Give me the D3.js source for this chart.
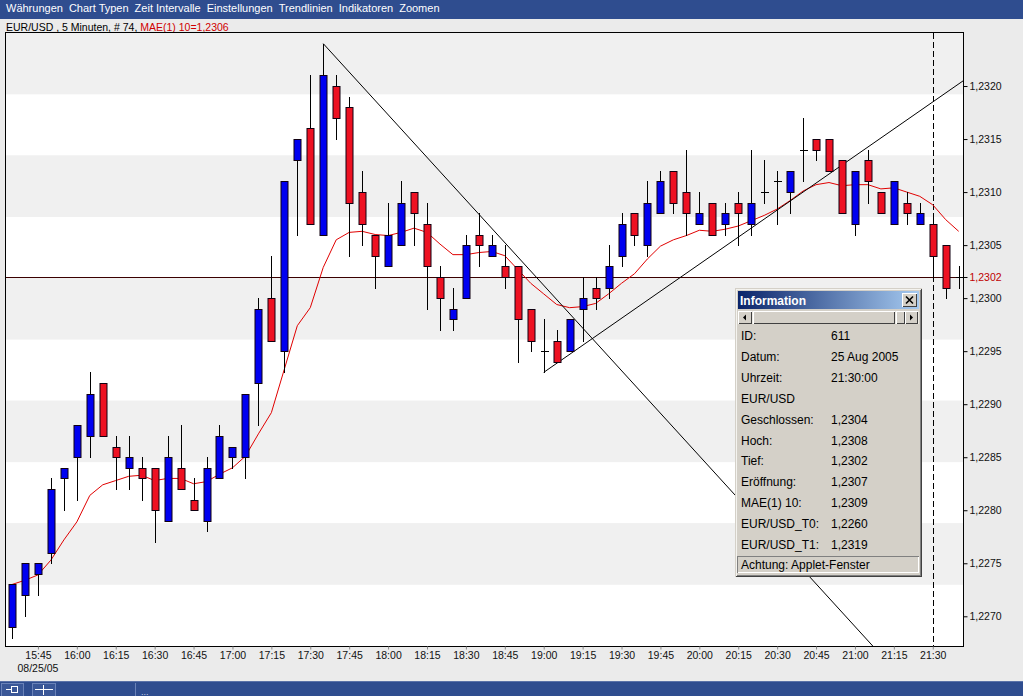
<!DOCTYPE html>
<meta charset="utf-8" />
<script src="https://d3js.org/d3.v7.min.js"></script>
<style>
  body { margin: 0; background: #ebebeb; overflow: hidden; }
  svg { display: block; font-family: "Liberation Sans", Arial, sans-serif; }
</style>
<div id="chart"></div>
<script>
  // menu and title texts
  const menuItems = ["Währungen", "Chart Typen", "Zeit Intervalle", "Einstellungen", "Trendlinien", "Indikatoren", "Zoomen"];
  const titleMain = "EUR/USD , 5 Minuten, # 74, ";
  const titleMa = "MAE(1) 10=1,2306";
  const dateLabel = "08/25/05";

  // 74 five-minute candles, first one at 15:35
  const day = "2005-08-25";
  const firstTime = "15:35";
  const stepMinutes = 5;
  const opens = [1.2269, 1.2272, 1.2274, 1.2276, 1.2283, 1.2285, 1.2287, 1.2292, 1.2286, 1.2284,
    1.2284, 1.2284, 1.2279, 1.2284, 1.2281, 1.2279, 1.2283, 1.2285, 1.2285, 1.2292,
    1.2300, 1.2295, 1.2313, 1.2316, 1.2306, 1.2320, 1.2318, 1.2310, 1.2306, 1.2303,
    1.2305, 1.2310, 1.2307, 1.2302, 1.2298, 1.2300, 1.2306, 1.2304, 1.2303, 1.2303,
    1.2299, 1.2295, 1.2296, 1.2295, 1.2299, 1.2301, 1.2301, 1.2304, 1.2308, 1.2305,
    1.2308, 1.2312, 1.2310, 1.2307, 1.2309, 1.2307, 1.2309, 1.2307, 1.2310, 1.2311,
    1.2310, 1.2314, 1.2315, 1.2315, 1.2313, 1.2307, 1.2313, 1.2310, 1.2307, 1.2309,
    1.2307, 1.2307, 1.2305, 1.2302];
  const highs = [1.2273, 1.2275, 1.2275, 1.2283, 1.2284, 1.2288, 1.2293, 1.2292, 1.2287, 1.2287,
    1.2285, 1.2284, 1.2287, 1.2288, 1.2283, 1.2285, 1.2288, 1.2286, 1.2291, 1.2300,
    1.2304, 1.2311, 1.2315, 1.2321, 1.2324, 1.2321, 1.2319, 1.2312, 1.2306, 1.2309,
    1.2311, 1.2310, 1.2309, 1.2303, 1.2301, 1.2306, 1.2308, 1.2306, 1.2305, 1.2303,
    1.2299, 1.2298, 1.2297, 1.2298, 1.2302, 1.2302, 1.2305, 1.2308, 1.2308, 1.2311,
    1.2312, 1.2312, 1.2314, 1.2310, 1.2309, 1.2309, 1.2310, 1.2314, 1.2313, 1.2312,
    1.2312, 1.2317, 1.2315, 1.2315, 1.2313, 1.2312, 1.2314, 1.2310, 1.2311, 1.2310,
    1.2309, 1.2308, 1.2305, 1.2303];
  const lows = [1.2268, 1.2270, 1.2272, 1.2275, 1.2280, 1.2281, 1.2285, 1.2287, 1.2282, 1.2282,
    1.2281, 1.2277, 1.2279, 1.2282, 1.2280, 1.2278, 1.2283, 1.2284, 1.2283, 1.2288,
    1.2296, 1.2293, 1.2306, 1.2307, 1.2306, 1.2315, 1.2304, 1.2305, 1.2301, 1.2303,
    1.2305, 1.2305, 1.2299, 1.2297, 1.2297, 1.2300, 1.2303, 1.2304, 1.2301, 1.2294,
    1.2295, 1.2293, 1.2294, 1.2295, 1.2296, 1.2299, 1.2300, 1.2303, 1.2305, 1.2304,
    1.2308, 1.2308, 1.2306, 1.2307, 1.2306, 1.2306, 1.2305, 1.2306, 1.2309, 1.2307,
    1.2308, 1.2311, 1.2313, 1.2312, 1.2308, 1.2306, 1.2309, 1.2308, 1.2307, 1.2307,
    1.2307, 1.2302, 1.2300, 1.2301];
  const closes = [1.2273, 1.2275, 1.2275, 1.2282, 1.2284, 1.2288, 1.2291, 1.2287, 1.2285, 1.2285,
    1.2283, 1.2280, 1.2285, 1.2282, 1.2280, 1.2284, 1.2287, 1.2286, 1.2291, 1.2299,
    1.2296, 1.2311, 1.2315, 1.2307, 1.2321, 1.2317, 1.2309, 1.2307, 1.2304, 1.2306,
    1.2309, 1.2308, 1.2303, 1.2300, 1.2299, 1.2305, 1.2305, 1.2305, 1.2302, 1.2298,
    1.2296, 1.2295, 1.2294, 1.2298, 1.2300, 1.2300, 1.2303, 1.2307, 1.2306, 1.2309,
    1.2311, 1.2309, 1.2308, 1.2308, 1.2306, 1.2308, 1.2308, 1.2309, 1.2310, 1.2311,
    1.2312, 1.2314, 1.2314, 1.2312, 1.2308, 1.2312, 1.2311, 1.2308, 1.2311, 1.2308,
    1.2308, 1.2304, 1.2301, 1.2302];
  // MAE(1) 10 line
  const maValues = [1.22730, 1.22734, 1.22739, 1.22753, 1.22772, 1.22789, 1.22814, 1.22824, 1.22828, 1.22832,
    1.22833, 1.22828, 1.22830, 1.22830, 1.22825, 1.22827, 1.22834, 1.22840, 1.22851, 1.22872,
    1.22892, 1.22933, 1.22974, 1.22991, 1.23029, 1.23055, 1.23062, 1.23063, 1.23060, 1.23059,
    1.23062, 1.23066, 1.23062, 1.23051, 1.23041, 1.23041, 1.23043, 1.23044, 1.23040, 1.23027,
    1.23014, 1.23004, 1.22994, 1.22991, 1.22992, 1.22995, 1.23004, 1.23014, 1.23023, 1.23037,
    1.23049, 1.23055, 1.23059, 1.23064, 1.23063, 1.23065, 1.23068, 1.23073, 1.23078, 1.23084,
    1.23092, 1.23101, 1.23107, 1.23109, 1.23106, 1.23107, 1.23107, 1.23103, 1.23104, 1.23100,
    1.23096, 1.23088, 1.23074, 1.23063];

  const yTicks = [1.2270, 1.2275, 1.2280, 1.2285, 1.2290, 1.2295, 1.2300, 1.2305, 1.2310, 1.2315, 1.2320];
  const yDomain = [1.22672, 1.2325];

  // trend lines: start point and a second point, drawn on to the right
  const trendStarts = [["17:35", 1.2324], ["19:00", 1.2293]];
  const trendThrough = [["21:30", 1.2261], ["21:30", 1.23185]];
  const cursorTime = "21:30";

  // information window
  const infoTitle = "Information";
  const infoLabels = ["ID:", "Datum:", "Uhrzeit:", "EUR/USD", "Geschlossen:", "Hoch:", "Tief:", "Eröffnung:", "MAE(1) 10:", "EUR/USD_T0:", "EUR/USD_T1:"];
  const infoValues = ["611", "25 Aug 2005", "21:30:00", "", "1,2304", "1,2308", "1,2302", "1,2307", "1,2309", "1,2260", "1,2319"];
  const infoStatus = "Achtung: Applet-Fenster";

  const W = 1023, H = 696;
  const plot = { l: 6, r: 963.5, t: 33, b: 646 };
  const parseT = d3.timeParse("%Y-%m-%d %H:%M");
  const T = s => parseT(day + " " + s);
  const start = T(firstTime);
  const times = opens.map((d, i) => d3.timeMinute.offset(start, i * stepMinutes));
  const candles = times.map((t, i) => ({ t, o: opens[i], h: highs[i], l: lows[i], c: closes[i], ma: maValues[i] }));
  const fmt = v => d3.format(".4f")(v).replace(".", ",");

  const x = d3.scaleTime()
    .domain([new Date(+start - 2.31 * 60000), new Date(+times[times.length - 1] + 1.85 * 60000)])
    .range([plot.l, plot.r]);
  const y = d3.scaleLinear().domain(yDomain).range([plot.b, plot.t]);

  const svg = d3.select("#chart").append("svg").attr("width", W).attr("height", H);
  const defs = svg.append("defs");
  defs.append("clipPath").attr("id", "plotClip").append("rect")
    .attr("x", plot.l).attr("y", plot.t).attr("width", plot.r - plot.l).attr("height", plot.b - plot.t);
  const grad = defs.append("linearGradient").attr("id", "titleGrad");
  grad.append("stop").attr("offset", "0%").attr("stop-color", "#0a246a");
  grad.append("stop").attr("offset", "100%").attr("stop-color", "#a6caf0");

  svg.append("rect").attr("width", W).attr("height", H).attr("fill", "#ebebeb");

  // menu bar
  svg.append("rect").attr("width", W).attr("height", 19).attr("fill", "#2f4d8f");
  let mx = 6;
  menuItems.forEach(m => {
    const t = svg.append("text").attr("x", mx).attr("y", 11.5).attr("fill", "#fff")
      .attr("font-size", 11).text(m);
    mx += t.node().getComputedTextLength() + 6;
  });

  // title
  const title = svg.append("text").attr("x", 6).attr("y", 30.5).attr("font-size", 10.5).attr("fill", "#000");
  title.append("tspan").text(titleMain).style("white-space", "pre");
  title.append("tspan").attr("fill", "#d00000").text(titleMa);

  // plot background with alternating bands
  const bandH = (plot.b - plot.t) / 10;
  const g = svg.append("g");
  g.selectAll("rect.band").data(d3.range(10)).join("rect")
    .attr("class", "band")
    .attr("x", plot.l).attr("width", plot.r - plot.l)
    .attr("y", i => plot.t + i * bandH).attr("height", bandH)
    .attr("fill", i => i % 2 ? "#ffffff" : "#f0f0f0");

  const clip = svg.append("g").attr("clip-path", "url(#plotClip)");

  // last price line
  const lastClose = closes[closes.length - 1];
  const yLast = Math.round(y(lastClose)) + 0.5;
  clip.append("line").attr("x1", plot.l).attr("x2", plot.r).attr("y1", yLast).attr("y2", yLast)
    .attr("stroke", "#3a0000").attr("stroke-width", 1);

  // cursor line
  const xc = Math.round(x(T(cursorTime))) + 0.5;
  clip.append("line").attr("x1", xc).attr("x2", xc).attr("y1", plot.t).attr("y2", plot.b)
    .attr("stroke", "#000").attr("stroke-dasharray", "6,3");

  // moving average
  clip.append("path").datum(candles)
    .attr("fill", "none").attr("stroke", "#e00000").attr("stroke-width", 1)
    .attr("d", d3.line().x(d => x(d.t)).y(d => y(d.ma)));

  // trend lines, extended to the right edge
  const xEnd = x.domain()[1];
  trendStarts.forEach((s, i) => {
    const t0 = T(s[0]), p0 = s[1];
    const t1 = T(trendThrough[i][0]), p1 = trendThrough[i][1];
    const slope = (p1 - p0) / (t1 - t0);
    const pEnd = p0 + slope * (xEnd - t0);
    clip.append("line")
      .attr("x1", x(t0)).attr("y1", y(p0))
      .attr("x2", x(xEnd)).attr("y2", y(pEnd))
      .attr("stroke", "#000").attr("stroke-width", 1);
  });

  // candles
  const cg = clip.selectAll("g.candle").data(candles).join("g").attr("class", "candle");
  cg.append("line")
    .attr("x1", d => Math.round(x(d.t)) + 0.5).attr("x2", d => Math.round(x(d.t)) + 0.5)
    .attr("y1", d => Math.round(y(d.h))).attr("y2", d => Math.round(y(d.l)) + 1)
    .attr("stroke", "#000").attr("shape-rendering", "crispEdges");
  cg.filter(d => d.o !== d.c).append("rect")
    .attr("x", d => Math.round(x(d.t)) - 3)
    .attr("y", d => Math.round(y(Math.max(d.o, d.c))) + 0.5)
    .attr("width", 7)
    .attr("height", d => Math.round(y(Math.min(d.o, d.c))) - Math.round(y(Math.max(d.o, d.c))))
    .attr("fill", d => d.c > d.o ? "#0000f0" : "#ee1122")
    .attr("stroke", "#100010").attr("stroke-width", 1);
  cg.filter(d => d.o === d.c).append("line")
    .attr("x1", d => Math.round(x(d.t)) - 3).attr("x2", d => Math.round(x(d.t)) + 5)
    .attr("y1", d => Math.round(y(d.o)) + 0.5).attr("y2", d => Math.round(y(d.o)) + 0.5)
    .attr("stroke", "#000");

  // plot border
  svg.append("rect").attr("x", plot.l - 0.5).attr("y", plot.t - 0.5)
    .attr("width", plot.r - plot.l + 0.5).attr("height", plot.b - plot.t + 1)
    .attr("fill", "none").attr("stroke", "#000");

  // y axis on the right
  const yAxis = svg.append("g").attr("transform", `translate(${plot.r},0)`)
    .call(d3.axisRight(y).tickValues(yTicks).tickSize(4).tickPadding(2).tickFormat(fmt));
  yAxis.select(".domain").remove();
  yAxis.selectAll("text").attr("font-size", 10.5).attr("fill", "#111").attr("font-family", "Liberation Sans, Arial, sans-serif");
  yAxis.selectAll("line").attr("stroke", "#000");

  // current price label
  svg.append("line").attr("x1", plot.r).attr("x2", plot.r + 4).attr("y1", yLast).attr("y2", yLast).attr("stroke", "#000");
  svg.append("text").attr("x", plot.r + 6).attr("y", yLast).attr("dy", "0.32em")
    .attr("font-size", 10.5).attr("fill", "#c00000").text(fmt(lastClose));

  // x axis
  const xAxis = svg.append("g").attr("transform", `translate(0,${plot.b + 0.5})`)
    .call(d3.axisBottom(x).ticks(d3.timeMinute.every(15)).tickSize(3).tickPadding(2)
      .tickFormat(d3.timeFormat("%H:%M")));
  xAxis.select(".domain").remove();
  xAxis.selectAll("text").attr("font-size", 10.5).attr("fill", "#111").attr("font-family", "Liberation Sans, Arial, sans-serif");
  xAxis.selectAll("line").attr("stroke", "#888");
  svg.append("text").attr("x", x(x.ticks(d3.timeMinute.every(15))[0])).attr("y", 672)
    .attr("text-anchor", "middle").attr("font-size", 10.5).attr("fill", "#111").text(dateLabel);

  // information window
  const ix = 735, iy = 288, iw = 187, ih = 289;
  const info = svg.append("g").attr("shape-rendering", "crispEdges");
  info.append("rect").attr("x", ix).attr("y", iy).attr("width", iw).attr("height", ih).attr("fill", "#d4d0c8");
  info.append("path").attr("fill", "none").attr("stroke", "#f4f3ef")
    .attr("d", `M${ix + 1.5},${iy + ih - 1.5}V${iy + 1.5}H${iw + ix - 1.5}`);
  info.append("path").attr("fill", "none").attr("stroke", "#404040")
    .attr("d", `M${ix + 0.5},${iy + ih - 0.5}H${ix + iw - 0.5}V${iy + 0.5}`);
  info.append("path").attr("fill", "none").attr("stroke", "#808080")
    .attr("d", `M${ix + 1.5},${iy + ih - 1.5}H${ix + iw - 1.5}V${iy + 1.5}`);
  info.append("rect").attr("x", ix + 3).attr("y", iy + 3).attr("width", iw - 6).attr("height", 18)
    .attr("fill", "url(#titleGrad)");
  info.append("text").attr("x", ix + 5).attr("y", iy + 16.5).attr("fill", "#fff")
    .attr("font-weight", "bold").attr("font-size", 12).text(infoTitle);

  // window buttons
  function button(bx, by, bw, bh) {
    info.append("rect").attr("x", bx).attr("y", by).attr("width", bw).attr("height", bh).attr("fill", "#d4d0c8");
    info.append("path").attr("fill", "none").attr("stroke", "#fff")
      .attr("d", `M${bx + 0.5},${by + bh - 0.5}V${by + 0.5}H${bx + bw - 0.5}`);
    info.append("path").attr("fill", "none").attr("stroke", "#404040")
      .attr("d", `M${bx + 0.5},${by + bh - 0.5}H${bx + bw - 0.5}V${by + 0.5}`);
  }
  button(902, iy + 5, 15, 14);
  info.append("path").attr("stroke", "#000").attr("stroke-width", 1.6).attr("shape-rendering", "auto")
    .attr("d", `M906,${iy + 8.5}L913,${iy + 15.5}M913,${iy + 8.5}L906,${iy + 15.5}`);

  // scroll row
  const sy = iy + 23;
  info.append("rect").attr("x", ix + 3).attr("y", sy).attr("width", iw - 6).attr("height", 13).attr("fill", "#ece9e2");
  button(ix + 3, sy, 14, 13);
  button(ix + 18, sy, 877 - ix, 13);
  button(896, sy, 9, 13);
  button(905, sy, 13, 13);
  info.append("path").attr("fill", "#000").attr("shape-rendering", "auto")
    .attr("d", `M${ix + 8},${sy + 6.5}L${ix + 11},${sy + 3.5}V${sy + 9.5}Z`);
  info.append("path").attr("fill", "#000").attr("shape-rendering", "auto")
    .attr("d", `M${913},${sy + 6.5}L${910},${sy + 3.5}V${sy + 9.5}Z`);

  // rows
  info.selectAll("text.lab").data(infoLabels).join("text").attr("class", "lab")
    .attr("x", ix + 6).attr("y", (d, i) => 340 + i * 20.9)
    .attr("font-size", 12).attr("fill", "#000").text(d => d);
  info.selectAll("text.val").data(infoValues).join("text").attr("class", "val")
    .attr("x", 831).attr("y", (d, i) => 340 + i * 20.9)
    .attr("font-size", 12).attr("fill", "#000").text(d => d);

  // status field
  const sty = 556;
  info.append("path").attr("fill", "none").attr("stroke", "#808080")
    .attr("d", `M${ix + 2.5},${sty + 16.5}V${sty + 0.5}H${ix + iw - 3.5}`);
  info.append("path").attr("fill", "none").attr("stroke", "#fff")
    .attr("d", `M${ix + 2.5},${sty + 16.5}H${ix + iw - 3.5}V${sty + 0.5}`);
  info.append("text").attr("x", ix + 6).attr("y", sty + 13).attr("font-size", 12).attr("fill", "#000").text(infoStatus);

  // status bar
  const bar = svg.append("g").attr("shape-rendering", "crispEdges");
  bar.append("rect").attr("y", 681).attr("width", W).attr("height", H - 681).attr("fill", "#2f4d8f");
  bar.append("line").attr("x1", 0).attr("x2", W).attr("y1", 681.5).attr("y2", 681.5).attr("stroke", "#5a72a8");
  [[1, 22], [32, 23]].forEach(([bx, bw]) => {
    bar.append("rect").attr("x", bx + 0.5).attr("y", 683.5).attr("width", bw).attr("height", 13)
      .attr("fill", "#3a5797").attr("stroke", "#6a82b8");
  });
  bar.append("path").attr("stroke", "#fff").attr("fill", "none")
    .attr("d", "M6,689.5H11M11.5,686.5h6v6h-6z");
  bar.append("path").attr("stroke", "#fff").attr("fill", "none")
    .attr("d", "M35,689.5H53M43.5,685V695");
  bar.append("line").attr("x1", 135.5).attr("x2", 135.5).attr("y1", 683).attr("y2", 696).attr("stroke", "#6a82b8");
  bar.append("text").attr("x", 141).attr("y", 695).attr("fill", "#c8d0e8").attr("font-size", 9).text("...");
</script>
